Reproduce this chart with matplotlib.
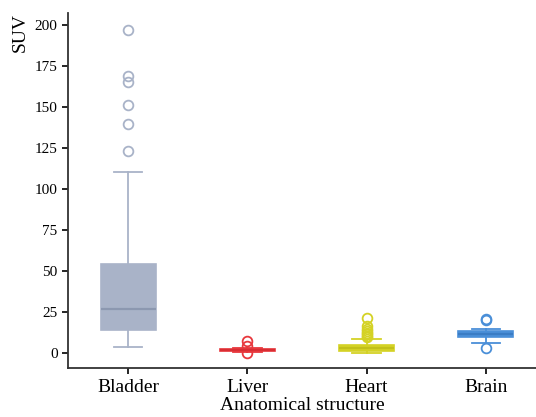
import numpy as np
import matplotlib
matplotlib.use('Agg')
import matplotlib.pyplot as plt

plt.rcParams['font.family'] = ['Liberation Serif', 'DejaVu Serif']

# Box statistics
structures = ['Bladder', 'Liver', 'Heart', 'Brain']
whislo = [3.8, 1.0, 0.3, 6.5]
q1 = [14.2, 1.5, 1.5, 10.2]
med = [27.0, 2.0, 3.3, 11.9]
q3 = [54.2, 2.5, 5.0, 13.4]
whishi = [110.3, 3.0, 8.7, 15.0]
fliers = [
    [197.0, 169.1, 165.3, 151.3, 139.7, 123.2],
    [7.7, 4.4, 0.2],
    [21.3, 16.4, 15.0, 13.6, 12.4, 11.5, 10.5, 9.8],
    [21.1, 20.3, 3.4],
]
colors = ['#a9b3c8', '#e8383d', '#d4d225', '#4a8fd8']
median_colors = ['#8c98b0', '#d92d33', '#c2c01a', '#3a7cc4']

stats = []
for i, name in enumerate(structures):
    stats.append(dict(label=name, whislo=whislo[i], q1=q1[i], med=med[i],
                      q3=q3[i], whishi=whishi[i], fliers=fliers[i]))

fig = plt.figure(figsize=(5.36, 4.17), dpi=100)
ax = fig.add_axes([0.127, 0.118, 0.873, 0.851])

bp = ax.bxp(stats, positions=np.arange(4), widths=0.46, patch_artist=True,
            showfliers=True)

for i in range(4):
    c = colors[i]
    bp['boxes'][i].set(facecolor=c, edgecolor=c, linewidth=1.2)
    bp['medians'][i].set(color=median_colors[i], linewidth=1.6)
    for w in bp['whiskers'][2 * i:2 * i + 2]:
        w.set(color=c, linewidth=1.3)
    for cap in bp['caps'][2 * i:2 * i + 2]:
        cap.set(color=c, linewidth=1.3, xdata=[i - 0.12, i + 0.12])
    bp['fliers'][i].set(marker='o', markerfacecolor='none', markeredgecolor=c,
                        markersize=7, markeredgewidth=1.3)

ax.set_xlim(-0.503, 3.42)
ax.set_ylim(-8.8, 207.3)
ax.set_yticks(np.arange(0, 201, 25))
ax.set_xticks(np.arange(4))
ax.set_xticklabels(structures, fontsize=14)
ax.tick_params(axis='y', labelsize=11, length=4, width=1.2)
ax.tick_params(axis='x', length=4, width=1.2, pad=4)

ax.spines['top'].set_visible(False)
ax.spines['right'].set_visible(False)
for s in ['left', 'bottom']:
    ax.spines[s].set_linewidth(1.3)
    ax.spines[s].set_color('#333333')

ax.set_xlabel('Anatomical structure', fontsize=14, labelpad=1)
ax.set_ylabel('SUV', fontsize=14, loc='top', labelpad=4)

fig.savefig('out.png', dpi=100)
